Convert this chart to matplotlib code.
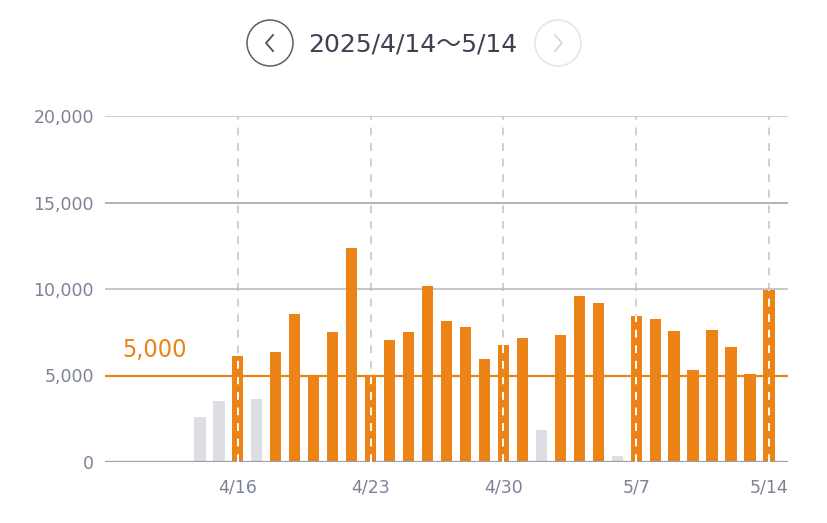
import matplotlib
matplotlib.use("Agg")
import matplotlib.pyplot as plt
from matplotlib.patches import Circle

plt.rcParams['font.family'] = ['DejaVu Sans', 'Noto Sans CJK JP']

# data: daily values 4/14 .. 5/14 (index 0 = 4/14)
values = [2600, 3530, 6150, 3640, 6380, 8560, 4990, 7510, 12370, 4950,
          7050, 7510, 10170, 8170, 7820, 5970, 6780, 7170, 1850, 7340,
          9580, 9190, 350, 8440, 8250, 7550, 5300, 7610, 6650, 5100, 9940]
reached = [False, False, True, False, True, True, True, True, True, True,
           True, True, True, True, True, True, True, True, False, True,
           True, True, False, True, True, True, True, True, True, True, True]
tick_idx = [2, 9, 16, 23, 30]
tick_labels = ['4/16', '4/23', '4/30', '5/7', '5/14']
y_ticks = [0, 5000, 10000, 15000, 20000]
target = 5000
title = '2025/4/14〜5/14'

ORANGE = '#eb8316'
GRAYBAR = '#dcdee4'
TXT = '#7d8299'

fig = plt.figure(figsize=(8.28, 5.23), dpi=100)
ax = fig.add_axes([105/828, 1-462/523, (788-105)/828, (462-116)/523])

# vertical dashed guides behind bars
for i in tick_idx:
    ax.axvline(i, color='#cfcfd3', lw=1.4, ls=(0, (4, 4)), zorder=0)

grid_cols = {5000: '#bdbdc2', 10000: '#bdbdc2', 15000: '#a4a5ac', 20000: '#c4c4c8'}
for v in y_ticks[1:]:
    ax.axhline(v, color=grid_cols[v], lw=1.2, zorder=0)
ax.axhline(0, color='#9c9ea8', lw=1.6, zorder=3)

x = list(range(len(values)))
colors = [ORANGE if r else GRAYBAR for r in reached]
ax.bar(x, values, width=0.6, color=colors, zorder=2)

# white dashes inside bars on the guide days
for i in tick_idx:
    ax.plot([i, i], [0, values[i]], color='white', lw=1.4, ls=(0, (4, 4)), zorder=4)

ax.axhline(target, color=ORANGE, lw=1.6, zorder=5)
ax.text(-4.1, target + 800, '{:,}'.format(target), color=ORANGE, fontsize=18,
        ha='left', va='bottom', fontstretch='condensed', family='DejaVu Sans')

ax.set_xlim(-5, 31)
ax.set_ylim(0, 20000)
ax.set_yticks(y_ticks)
ax.set_yticklabels(['{:,}'.format(v) for v in y_ticks])
ax.set_xticks(tick_idx)
ax.set_xticklabels(tick_labels)
ax.tick_params(length=0, colors=TXT, labelsize=12.5)
ax.tick_params(axis='y', pad=8)
ax.tick_params(axis='x', pad=12)
for s in ax.spines.values():
    s.set_visible(False)

# header with arrows
hd = fig.add_axes([0, 0, 1, 1])
hd.set_xlim(0, 828)
hd.set_ylim(523, 0)
hd.axis('off')
hd.add_patch(Circle((270, 43), 23, fill=False, ec='#5a5f70', lw=1.1))
hd.plot([273, 266, 273], [35, 43, 51], color='#4a4f60', lw=1.3)
hd.add_patch(Circle((558, 43), 23, fill=False, ec='#e4e4e8', lw=1.1))
hd.plot([555, 562, 555], [35, 43, 51], color='#d8d8dc', lw=1.3)
hd.text(413, 44, title, ha='center', va='center', fontsize=18, color='#3d4152')

fig.savefig('out.png', dpi=100)
